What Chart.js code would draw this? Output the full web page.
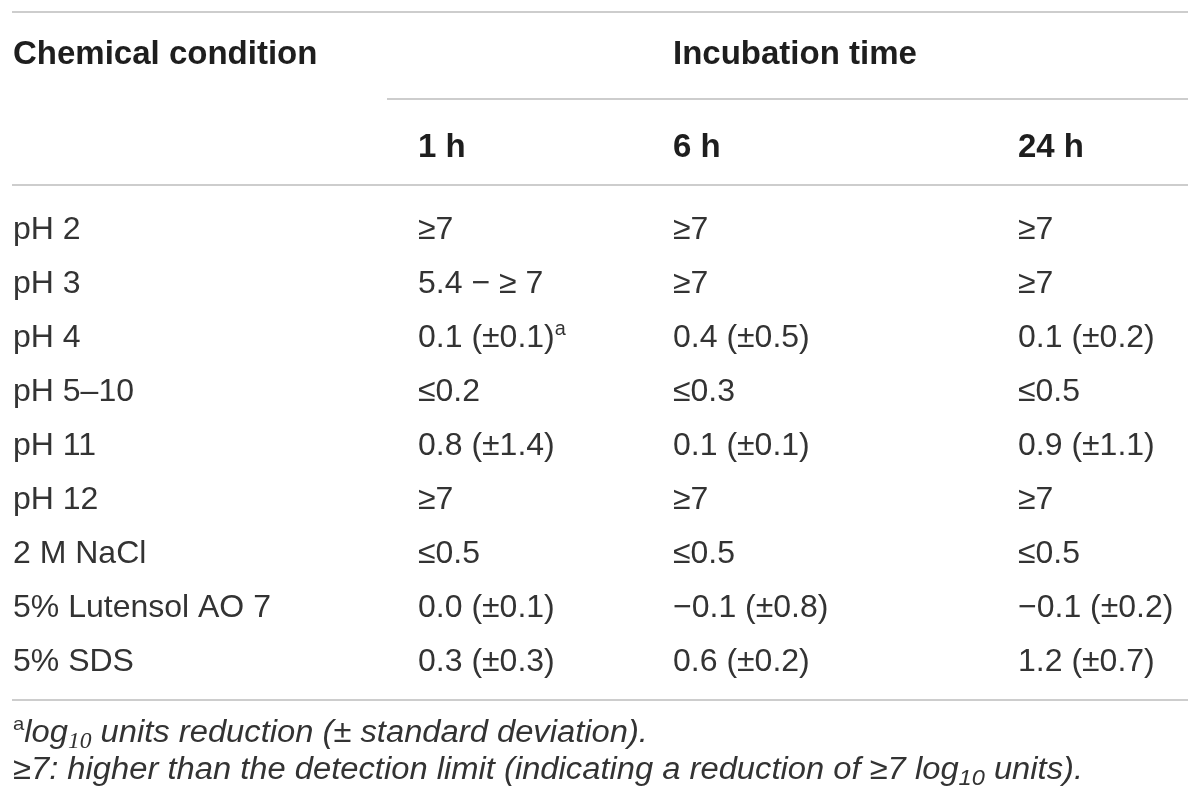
<!DOCTYPE html>
<html>
<head>
<meta charset="utf-8">
<script src="https://cdn.jsdelivr.net/npm/chart.js@4.4.1/dist/chart.umd.min.js"></script>
<style>
  html, body { margin: 0; padding: 0; background: #fff; }
  #wrap { width: 1200px; height: 807px; position: relative; }
</style>
</head>
<body>
<div id="wrap"><canvas id="tbl"></canvas></div>
<script>
// table content
const conditions = ["pH 2", "pH 3", "pH 4", "pH 5–10", "pH 11", "pH 12", "2 M NaCl", "5% Lutensol AO 7", "5% SDS"];
const times = ["1 h", "6 h", "24 h"];
const reduction1h = ["≥7", "5.4 − ≥ 7", "0.1 (±0.1)^{a}", "≤0.2", "0.8 (±1.4)", "≥7", "≤0.5", "0.0 (±0.1)", "0.3 (±0.3)"];
const reduction6h = ["≥7", "≥7", "0.4 (±0.5)", "≤0.3", "0.1 (±0.1)", "≥7", "≤0.5", "−0.1 (±0.8)", "0.6 (±0.2)"];
const reduction24h = ["≥7", "≥7", "0.1 (±0.2)", "≤0.5", "0.9 (±1.1)", "≥7", "≤0.5", "−0.1 (±0.2)", "1.2 (±0.7)"];
const headFirst = "Chemical condition";
const headGroup = "Incubation time";
const footnotes = [
  "^{a}log_s{10} units reduction (± standard deviation).",
  "≥7: higher than the detection limit (indicating a reduction of ≥7 log_{10} units)."
];

// layout (x in layout units along the hidden linear axis)
const colX = [13, 418, 673, 1018];
const ruleL = 12, ruleR = 1188, groupRuleL = 387;
const BODY = 32, HEAD = 33, FOOT = 31;
const INK = "#333333", RULE = "#cdcdcd";
const FAM = "'Liberation Sans', Arial, Helvetica, sans-serif";

function parseRich(s) {
  const out = [];
  const re = /(\^|_s|_)\{([^}]*)\}/g;
  let last = 0, m;
  while ((m = re.exec(s))) {
    if (m.index > last) out.push({ t: s.slice(last, m.index), k: "n" });
    out.push({ t: m[2], k: m[1] });
    last = re.lastIndex;
  }
  if (last < s.length) out.push({ t: s.slice(last), k: "n" });
  return out;
}

function drawRich(ctx, s, x, y, size, style, weight, dry) {
  parseRich(s).forEach(seg => {
    let fs = size, dy = 0, fam = FAM, st = style;
    if (seg.k === "^") { fs = size * 0.62; dy = -size * 0.38; st = "normal"; }
    if (seg.k === "_") { fs = size * 0.72; dy = size * 0.2; }
    if (seg.k === "_s") { fs = size * 0.72; dy = size * 0.2; fam = "'Liberation Serif', 'Times New Roman', serif"; }
    ctx.font = `${st} ${weight} ${fs}px ${fam}`;
    if (!dry) ctx.fillText(seg.t, x, y + dy);
    x += ctx.measureText(seg.t).width;
  });
  return x;
}

const tablePlugin = {
  id: "tableText",
  afterDatasetsDraw(chart) {
    const ctx = chart.ctx;
    const xs = chart.scales.x;
    const area = chart.chartArea;
    ctx.save();
    ctx.textBaseline = "alphabetic";
    ctx.fillStyle = INK;

    // cells: every point of every dataset carries its text
    chart.data.datasets.forEach((ds, di) => {
      const meta = chart.getDatasetMeta(di);
      meta.data.forEach((pt, i) => {
        drawRich(ctx, ds.cellText[i], pt.x, pt.y + BODY * 0.34, BODY, "normal", "normal");
      });
    });

    // header
    ctx.fillStyle = "#1e1e1e";
    drawRich(ctx, headFirst, xs.getPixelForValue(colX[0]), area.top - 137, HEAD, "normal", "bold");
    drawRich(ctx, headGroup, xs.getPixelForValue(colX[2]), area.top - 137, HEAD, "normal", "bold");
    times.forEach((t, i) => {
      drawRich(ctx, t, xs.getPixelForValue(colX[i + 1]), area.top - 44, HEAD, "normal", "bold");
    });

    // rules
    ctx.strokeStyle = RULE;
    ctx.lineWidth = 2;
    const rule = (y, l) => {
      ctx.beginPath();
      ctx.moveTo(xs.getPixelForValue(l), y);
      ctx.lineTo(xs.getPixelForValue(ruleR), y);
      ctx.stroke();
    };
    rule(area.top - 189, ruleL);
    rule(area.top - 102, groupRuleL);
    rule(area.top - 16, ruleL);
    rule(area.bottom + 13, ruleL);

    // footnotes, condensed italic
    ctx.fillStyle = INK;
    const w2 = drawRich(ctx, footnotes[1], 0, 0, FOOT, "italic", "normal", true);
    const sx = 1070 / w2;
    [55, 92].forEach((dy, i) => {
      ctx.save();
      ctx.translate(xs.getPixelForValue(colX[0]), area.bottom + dy);
      ctx.scale(sx, 1);
      drawRich(ctx, footnotes[i], 0, 0, FOOT, "italic", "normal");
      ctx.restore();
    });
    ctx.restore();
  }
};

const columns = [conditions, reduction1h, reduction6h, reduction24h];
const datasets = columns.map((col, c) => ({
  label: c === 0 ? headFirst : times[c - 1],
  cellText: col,
  data: conditions.map(name => ({ x: colX[c], y: name })),
  pointRadius: 0,
  pointHoverRadius: 0,
  showLine: false
}));

new Chart(document.getElementById("tbl"), {
  type: "scatter",
  data: { datasets },
  options: {
    responsive: true,
    maintainAspectRatio: false,
    animation: false,
    events: [],
    layout: { padding: { top: 201, bottom: 120, left: 0, right: 0 } },
    plugins: { legend: { display: false }, tooltip: { enabled: false } },
    scales: {
      x: { type: "linear", min: 0, max: 1200, display: false },
      y: { type: "category", labels: conditions, offset: true, display: false }
    }
  },
  plugins: [tablePlugin]
});
</script>
</body>
</html>
